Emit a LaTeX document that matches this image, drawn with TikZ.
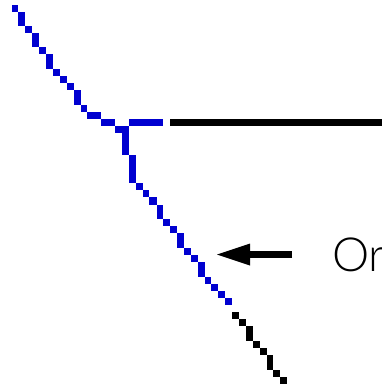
\documentclass[tikz,border=0pt]{standalone}
\usepackage{fontspec}
\setmainfont{Liberation Sans}
\newfontfamily\labelfont{Lato Light}
\usetikzlibrary{arrows.meta}
\definecolor{pixblue}{RGB}{0,0,208}
\begin{document}
\begin{tikzpicture}[x=1pt, y=-1pt, bluepix/.style={fill=pixblue}, blackpix/.style={fill=black}]
\useasboundingbox (0,0) rectangle (382,388);
\foreach \xa/\ya/\xb/\yb in {12/5/18/12, 18/12/25/26, 25/26/32/33, 32/33/39/47, 39/47/46/54, 46/54/53/69, 53/69/60/76, 60/76/67/83, 67/83/74/90, 74/90/81/105, 81/105/87/112, 87/112/101/119, 101/119/115/126, 115/126/129/133, 122/126/129/155, 129/119/163/126, 129/155/136/183, 136/183/143/190, 143/190/149/197, 149/197/157/205, 157/205/163/219, 163/219/170/226, 170/226/177/233, 177/233/184/248, 184/248/191/255, 191/255/198/262, 198/262/205/277, 205/277/211/284, 211/284/218/291, 218/291/225/298, 225/298/232/305}
  \fill[bluepix] (\xa,\ya) rectangle (\xb,\yb);
\foreach \xa/\ya/\xb/\yb in {232/312/239/319, 239/319/246/326, 246/326/253/341, 253/341/260/348, 260/348/267/355, 267/355/273/370, 273/370/280/377, 280/377/287/384, 170/119/382/126}
  \fill[blackpix] (\xa,\ya) rectangle (\xb,\yb);
\coordinate (tail) at (292,254.5);
\coordinate (tip) at (217,254.5);
\draw[line width=7pt, -{Triangle[length=33pt,width=22pt,line width=0pt]}] (tail) -- (tip);
\node[anchor=base west, inner sep=0pt, font=\labelfont\fontsize{47}{50}\selectfont] (or) at (332,271) {Or};
\end{tikzpicture}
\end{document}
